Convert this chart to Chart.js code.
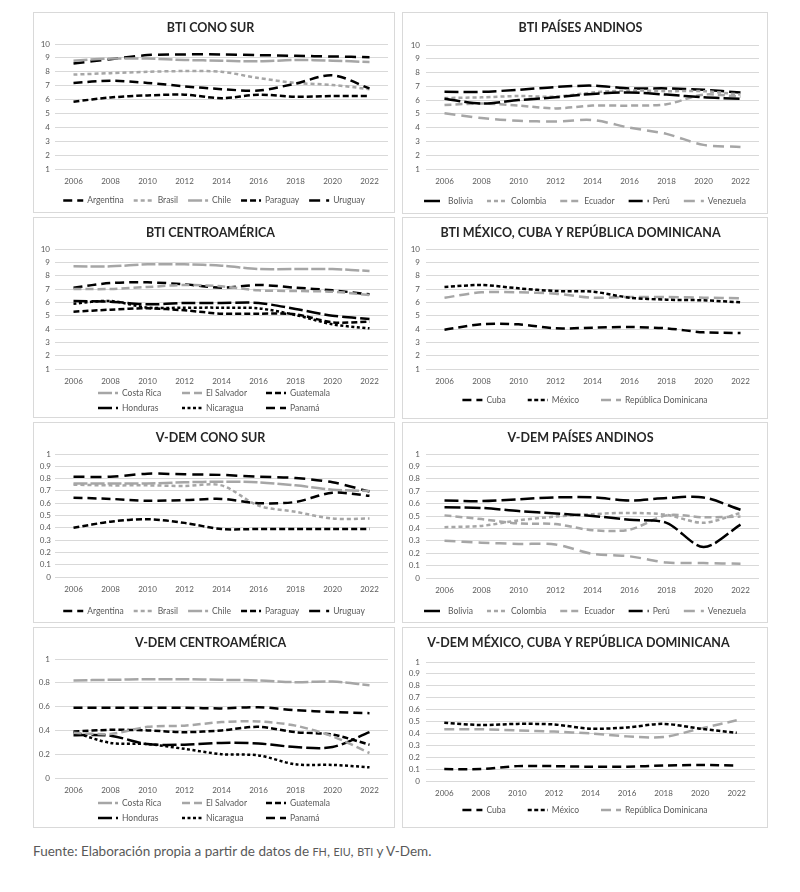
<!DOCTYPE html>
<html lang="es">
<head>
<meta charset="utf-8">
<title>BTI y V-Dem por subregion</title>
<script src="https://cdn.jsdelivr.net/npm/chart.js@4.4.1/dist/chart.umd.min.js"></script>
<style>
  html, body { margin: 0; padding: 0; background: #fff; }
  body { width: 800px; height: 892px; position: relative; overflow: hidden; font-family: Lato, "Open Sans", sans-serif; }
  .marco { position: absolute; border: 1px solid #d9d9d9; box-sizing: border-box; background: #fff; }
  .marco canvas { position: absolute; left: -1px; top: -1px; }
  .fuente { position: absolute; left: 33px; top: 843px; font-size: 13.5px; color: #595959; white-space: nowrap; }
  .sc { font-size: 0.8em; }
</style>
</head>
<body>
<div class="marco" style="left:33px;top:12px;width:362px;height:201px"><canvas id="g1" width="362" height="201"></canvas></div>
<div class="marco" style="left:402px;top:12px;width:366px;height:202px"><canvas id="g2" width="366" height="202"></canvas></div>
<div class="marco" style="left:33px;top:217px;width:362px;height:201px"><canvas id="g3" width="362" height="201"></canvas></div>
<div class="marco" style="left:402px;top:217px;width:366px;height:202px"><canvas id="g4" width="366" height="202"></canvas></div>
<div class="marco" style="left:33px;top:422px;width:362px;height:201px"><canvas id="g5" width="362" height="201"></canvas></div>
<div class="marco" style="left:402px;top:422px;width:366px;height:201px"><canvas id="g6" width="366" height="201"></canvas></div>
<div class="marco" style="left:33px;top:627px;width:362px;height:201px"><canvas id="g7" width="362" height="201"></canvas></div>
<div class="marco" style="left:402px;top:627px;width:366px;height:201px"><canvas id="g8" width="366" height="201"></canvas></div>
<div class="fuente">Fuente: Elaboración propia a partir de datos de <span class="sc">FH</span>, <span class="sc">EIU</span>, <span class="sc">BTI</span> y V-Dem.</div>

<script>
"use strict";
/* bti y v-dem - ocho paneles de lineas */

var anios = ["2006", "2008", "2010", "2012", "2014", "2016", "2018", "2020", "2022"];

/* bti cono sur */
var btiSurArgentina = [7.2, 7.35, 7.2, 6.95, 6.75, 6.65, 7.15, 7.75, 6.8];
var btiSurBrasil = [7.8, 7.9, 8.0, 8.05, 8.0, 7.55, 7.2, 7.05, 6.75];
var btiSurChile = [8.8, 8.95, 8.95, 8.85, 8.8, 8.75, 8.85, 8.8, 8.7];
var btiSurParaguay = [5.85, 6.15, 6.3, 6.35, 6.1, 6.35, 6.2, 6.25, 6.25];
var btiSurUruguay = [8.6, 8.9, 9.2, 9.25, 9.25, 9.2, 9.15, 9.1, 9.05];

/* bti paises andinos */
var btiAndBolivia = [6.1, 5.75, 6.0, 6.2, 6.45, 6.55, 6.4, 6.2, 6.1];
var btiAndColombia = [6.15, 6.2, 6.3, 6.25, 6.55, 6.7, 6.65, 6.65, 6.4];
var btiAndEcuador = [5.65, 5.75, 5.6, 5.4, 5.6, 5.6, 5.7, 6.4, 6.25];
var btiAndPeru = [6.6, 6.6, 6.75, 6.95, 7.05, 6.85, 6.85, 6.75, 6.55];
var btiAndVenezuela = [5.05, 4.7, 4.5, 4.45, 4.55, 4.0, 3.55, 2.75, 2.6];

/* bti centroamerica */
var btiCenCostaRica = [8.7, 8.7, 8.85, 8.85, 8.75, 8.5, 8.5, 8.5, 8.35];
var btiCenElSalvador = [7.0, 7.0, 7.15, 7.3, 7.2, 6.9, 6.85, 6.8, 6.55];
var btiCenGuatemala = [5.3, 5.45, 5.55, 5.4, 5.15, 5.15, 5.1, 4.5, 4.55];
var btiCenHonduras = [6.1, 6.05, 5.85, 5.95, 5.95, 5.95, 5.5, 5.0, 4.75];
var btiCenNicaragua = [5.9, 6.1, 5.6, 5.6, 5.6, 5.55, 5.05, 4.35, 4.05];
var btiCenPanama = [7.1, 7.45, 7.5, 7.35, 7.1, 7.3, 7.1, 6.9, 6.6];

/* bti mexico, cuba y republica dominicana */
var btiMexCuba = [3.95, 4.35, 4.35, 4.05, 4.1, 4.15, 4.05, 3.75, 3.7];
var btiMexMexico = [7.15, 7.3, 7.05, 6.85, 6.8, 6.35, 6.2, 6.15, 6.0];
var btiMexRepDom = [6.35, 6.75, 6.75, 6.65, 6.35, 6.4, 6.4, 6.35, 6.3];

/* v-dem cono sur */
var vdSurArgentina = [0.645, 0.635, 0.62, 0.625, 0.635, 0.6, 0.61, 0.685, 0.66];
var vdSurBrasil = [0.75, 0.745, 0.745, 0.74, 0.745, 0.58, 0.53, 0.475, 0.475];
var vdSurChile = [0.76, 0.76, 0.76, 0.77, 0.775, 0.77, 0.745, 0.71, 0.7];
var vdSurParaguay = [0.4, 0.45, 0.47, 0.44, 0.39, 0.39, 0.39, 0.39, 0.39];
var vdSurUruguay = [0.815, 0.815, 0.84, 0.835, 0.83, 0.815, 0.805, 0.77, 0.695];

/* v-dem paises andinos */
var vdAndBolivia = [0.57, 0.565, 0.54, 0.52, 0.5, 0.47, 0.445, 0.25, 0.43];
var vdAndColombia = [0.41, 0.42, 0.465, 0.495, 0.515, 0.525, 0.51, 0.445, 0.525];
var vdAndEcuador = [0.505, 0.475, 0.44, 0.435, 0.385, 0.39, 0.505, 0.49, 0.495];
var vdAndPeru = [0.625, 0.62, 0.635, 0.65, 0.65, 0.625, 0.645, 0.65, 0.55];
var vdAndVenezuela = [0.3, 0.285, 0.275, 0.27, 0.195, 0.175, 0.125, 0.12, 0.115];

/* v-dem centroamerica */
var vdCenCostaRica = [0.82, 0.825, 0.83, 0.83, 0.825, 0.82, 0.805, 0.81, 0.78];
var vdCenElSalvador = [0.38, 0.37, 0.43, 0.44, 0.47, 0.475, 0.44, 0.35, 0.21];
var vdCenGuatemala = [0.39, 0.405, 0.4, 0.385, 0.4, 0.43, 0.385, 0.365, 0.28];
var vdCenHonduras = [0.36, 0.355, 0.285, 0.28, 0.295, 0.29, 0.26, 0.26, 0.385];
var vdCenNicaragua = [0.385, 0.295, 0.285, 0.245, 0.2, 0.19, 0.115, 0.11, 0.09];
var vdCenPanama = [0.59, 0.59, 0.59, 0.59, 0.585, 0.595, 0.57, 0.555, 0.545];

/* v-dem mexico, cuba y republica dominicana */
var vdMexCuba = [0.1, 0.1, 0.125, 0.125, 0.12, 0.12, 0.13, 0.135, 0.13];
var vdMexMexico = [0.49, 0.47, 0.48, 0.475, 0.44, 0.45, 0.48, 0.44, 0.405];
var vdMexRepDom = [0.435, 0.435, 0.425, 0.415, 0.4, 0.375, 0.37, 0.44, 0.51];

(function () {

  var negro = "#000000";
  var gris = "#a6a6a6";
  var textoGris = "#595959";
  var altoEjeX = 17;

  /* estilo de linea por pais */
  var estilos = {
    "Argentina": { color: negro, dash: [9, 5] },
    "Brasil": { color: gris, dash: [4, 3] },
    "Chile": { color: gris, dash: [14, 3] },
    "Paraguay": { color: negro, dash: [6, 3] },
    "Uruguay": { color: negro, dash: [11, 6] },
    "Bolivia": { color: negro, dash: [16, 4] },
    "Colombia": { color: gris, dash: [4, 3] },
    "Ecuador": { color: gris, dash: [7, 4] },
    "Perú": { color: negro, dash: [14, 5] },
    "Venezuela": { color: gris, dash: [11, 6] },
    "Costa Rica": { color: gris, dash: [14, 3] },
    "El Salvador": { color: gris, dash: [8, 4] },
    "Guatemala": { color: negro, dash: [6, 3] },
    "Honduras": { color: negro, dash: [14, 4] },
    "Nicaragua": { color: negro, dash: [3, 2.5] },
    "Panamá": { color: negro, dash: [9, 5] },
    "Cuba": { color: negro, dash: [9, 5] },
    "México": { color: negro, dash: [4, 2.5] },
    "República Dominicana": { color: gris, dash: [10, 5] }
  };

  /* leyenda dibujada a mano para controlar filas y columnas */
  var leyendaPropia = {
    id: "leyendaPropia",
    afterDraw: function (chart, args, opts) {
      var ctx = chart.ctx;
      var marca = 20;
      var sep = 4;
      ctx.save();
      ctx.font = "8.5px Lato";
      ctx.textBaseline = "middle";
      ctx.textAlign = "left";
      var items = chart.data.datasets.map(function (d) {
        return { d: d, w: marca + sep + ctx.measureText(d.label).width };
      });
      var porFila = opts.porFila;
      var filas = [];
      for (var i = 0; i < items.length; i += porFila) {
        filas.push(items.slice(i, i + porFila));
      }
      var ultimo = 0;
      filas.forEach(function (fl) {
        if (fl[porFila - 1]) { ultimo = Math.max(ultimo, fl[porFila - 1].w); }
      });
      filas.forEach(function (fila, f) {
        var y = opts.ys[f];
        var xs = [];
        if (opts.columna) {
          var total = (porFila - 1) * opts.columna + ultimo;
          var x0 = (chart.width - total) / 2;
          fila.forEach(function (it, j) { xs.push(x0 + j * opts.columna); });
        } else {
          var suma = fila.reduce(function (a, it) { return a + it.w; }, 0) + opts.hueco * (fila.length - 1);
          var x = (chart.width - suma) / 2;
          fila.forEach(function (it) { xs.push(x); x += it.w + opts.hueco; });
        }
        fila.forEach(function (it, j) {
          var xi = xs[j];
          ctx.beginPath();
          ctx.strokeStyle = it.d.borderColor;
          ctx.lineWidth = it.d.borderWidth;
          ctx.setLineDash(it.d.borderDash || []);
          ctx.moveTo(xi, y);
          ctx.lineTo(xi + marca, y);
          ctx.stroke();
          ctx.setLineDash([]);
          ctx.fillStyle = textoGris;
          ctx.fillText(it.d.label, xi + marca + sep, y);
        });
      });
      ctx.restore();
    }
  };

  function serie(nombre, valores) {
    var e = estilos[nombre];
    return {
      label: nombre,
      data: valores,
      borderColor: e.color,
      backgroundColor: e.color,
      borderDash: e.dash,
      borderWidth: 2.5,
      pointRadius: 0,
      fill: false,
      tension: 0.3
    };
  }

  function formatoTick(v) {
    return String(Math.round(v * 10) / 10);
  }

  function crearGrafico(id, titulo, series, cfg) {
    var canvas = document.getElementById(id);
    if (!canvas) { return; }
    var alto = canvas.height;
    new Chart(canvas.getContext("2d"), {
      type: "line",
      data: { labels: anios, datasets: series },
      plugins: [leyendaPropia],
      options: {
        responsive: false,
        animation: false,
        layout: {
          padding: { left: 0, right: cfg.der, top: 0, bottom: alto - cfg.abajo - altoEjeX }
        },
        plugins: {
          legend: { display: false },
          tooltip: { enabled: false },
          title: {
            display: true,
            text: titulo,
            color: "#262626",
            font: { family: "Lato", size: 12.5, weight: "bold", lineHeight: 1.2 },
            padding: { top: 8, bottom: cfg.arriba - 23 }
          },
          leyendaPropia: cfg.leyenda
        },
        scales: {
          x: {
            offset: true,
            grid: { display: false, drawTicks: false },
            border: { display: false },
            ticks: { color: textoGris, font: { family: "Lato", size: 8, lineHeight: 1.25 }, padding: 7, minRotation: 0, maxRotation: 0, autoSkip: false },
            afterFit: function (escala) { escala.height = altoEjeX; }
          },
          y: {
            min: cfg.min,
            max: cfg.max,
            grid: { color: "#d9d9d9", lineWidth: 1, drawTicks: false },
            border: { display: false },
            ticks: { stepSize: cfg.paso, autoSkip: false, color: textoGris, font: { family: "Lato", size: 8 }, padding: cfg.sepTick, callback: formatoTick },
            afterFit: function (escala) { escala.width = cfg.izq; }
          }
        }
      }
    });
  }

  var bti = { min: 1, max: 10, paso: 1 };
  var vdem = { min: 0, max: 1, paso: 0.1 };

  function mezclar(base, extra) {
    var r = {};
    Object.keys(base).forEach(function (k) { r[k] = base[k]; });
    Object.keys(extra).forEach(function (k) { r[k] = extra[k]; });
    return r;
  }

  crearGrafico("g1", "BTI CONO SUR", [
    serie("Argentina", btiSurArgentina),
    serie("Brasil", btiSurBrasil),
    serie("Chile", btiSurChile),
    serie("Paraguay", btiSurParaguay),
    serie("Uruguay", btiSurUruguay)
  ], mezclar(bti, { izq: 22, sepTick: 5, der: 7, arriba: 32, abajo: 157, leyenda: { porFila: 5, ys: [188.5], hueco: 10 } }));

  crearGrafico("g2", "BTI PAÍSES ANDINOS", [
    serie("Bolivia", btiAndBolivia),
    serie("Colombia", btiAndColombia),
    serie("Ecuador", btiAndEcuador),
    serie("Perú", btiAndPeru),
    serie("Venezuela", btiAndVenezuela)
  ], mezclar(bti, { izq: 24, sepTick: 6, der: 9, arriba: 33, abajo: 157, leyenda: { porFila: 5, ys: [189], hueco: 14 } }));

  crearGrafico("g3", "BTI CENTROAMÉRICA", [
    serie("Costa Rica", btiCenCostaRica),
    serie("El Salvador", btiCenElSalvador),
    serie("Guatemala", btiCenGuatemala),
    serie("Honduras", btiCenHonduras),
    serie("Nicaragua", btiCenNicaragua),
    serie("Panamá", btiCenPanama)
  ], mezclar(bti, { izq: 22, sepTick: 5, der: 7, arriba: 32, abajo: 152, leyenda: { porFila: 3, ys: [176, 191], columna: 84 } }));

  crearGrafico("g4", "BTI MÉXICO, CUBA Y REPÚBLICA DOMINICANA", [
    serie("Cuba", btiMexCuba),
    serie("México", btiMexMexico),
    serie("República Dominicana", btiMexRepDom)
  ], mezclar(bti, { izq: 24, sepTick: 6, der: 9, arriba: 32, abajo: 152, leyenda: { porFila: 3, ys: [183], hueco: 22 } }));

  crearGrafico("g5", "V-DEM CONO SUR", [
    serie("Argentina", vdSurArgentina),
    serie("Brasil", vdSurBrasil),
    serie("Chile", vdSurChile),
    serie("Paraguay", vdSurParaguay),
    serie("Uruguay", vdSurUruguay)
  ], mezclar(vdem, { izq: 22, sepTick: 4, der: 7, arriba: 32, abajo: 155, leyenda: { porFila: 5, ys: [189], hueco: 10 } }));

  crearGrafico("g6", "V-DEM PAÍSES ANDINOS", [
    serie("Bolivia", vdAndBolivia),
    serie("Colombia", vdAndColombia),
    serie("Ecuador", vdAndEcuador),
    serie("Perú", vdAndPeru),
    serie("Venezuela", vdAndVenezuela)
  ], mezclar(vdem, { izq: 24, sepTick: 6, der: 9, arriba: 32, abajo: 156, leyenda: { porFila: 5, ys: [189], hueco: 14 } }));

  crearGrafico("g7", "V-DEM CENTROAMÉRICA", [
    serie("Costa Rica", vdCenCostaRica),
    serie("El Salvador", vdCenElSalvador),
    serie("Guatemala", vdCenGuatemala),
    serie("Honduras", vdCenHonduras),
    serie("Nicaragua", vdCenNicaragua),
    serie("Panamá", vdCenPanama)
  ], { min: 0, max: 1, paso: 0.2, izq: 22, sepTick: 5, der: 7, arriba: 32, abajo: 151, leyenda: { porFila: 3, ys: [176, 191], columna: 84 } });

  crearGrafico("g8", "V-DEM MÉXICO, CUBA Y REPÚBLICA DOMINICANA", [
    serie("Cuba", vdMexCuba),
    serie("México", vdMexMexico),
    serie("República Dominicana", vdMexRepDom)
  ], mezclar(vdem, { izq: 24, sepTick: 6, der: 13, arriba: 35, abajo: 154, leyenda: { porFila: 3, ys: [183], hueco: 22 } }));

})();
</script>
</body>
</html>
